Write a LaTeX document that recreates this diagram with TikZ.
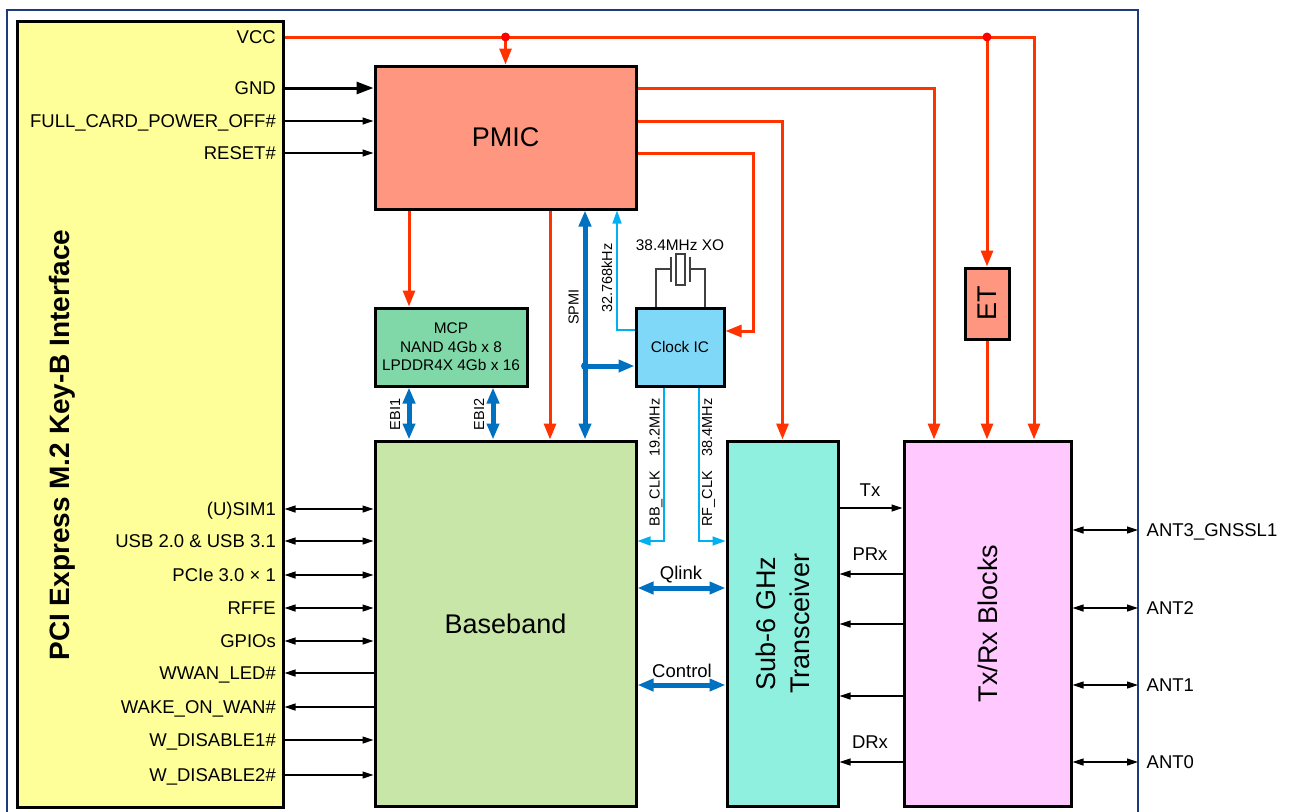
\documentclass[tikz,border=0pt]{standalone}
\usepackage{fontspec}
\setmainfont{Liberation Sans}
\usepackage{tikz}
\usetikzlibrary{arrows.meta,positioning}
\definecolor{framenavy}{HTML}{1F3A7A}
\definecolor{pciyellow}{HTML}{FFFF99}
\definecolor{pmicsalmon}{HTML}{FF9680}
\definecolor{mcpgreen}{HTML}{80D8A8}
\definecolor{clockblue}{HTML}{80D8F8}
\definecolor{bbgreen}{HTML}{C8E6A8}
\definecolor{trxaqua}{HTML}{90F0E0}
\definecolor{txrxpink}{HTML}{FFC8FF}
\definecolor{powerred}{HTML}{FF3300}
\definecolor{busblue}{HTML}{0070C0}
\definecolor{clkblue}{HTML}{00B0F0}
\definecolor{xtalgray}{HTML}{404040}
\newcommand{\fsBlock}{\fontsize{27}{34}\selectfont}
\newcommand{\fsTitle}{\fontsize{28}{34}\selectfont}
\newcommand{\fsPin}{\fontsize{18.5}{22}\selectfont}
\newcommand{\fsBox}{\fontsize{15.4}{18.5}\selectfont}
\newcommand{\fsSig}{\fontsize{14.5}{17}\selectfont}
\tikzset{
  block/.style={draw=black,line width=3pt,align=center,inner sep=0pt,font=\fsBlock},
  blocktext/.style={rotate=90,align=center,inner sep=0pt,font=\fsBlock},
  pinlbl/.style={anchor=east,inner sep=2pt,font=\fsPin,text height=13.2pt,text depth=0pt},
  antlbl/.style={anchor=west,inner xsep=8.5pt,inner ysep=0pt,font=\fsPin,text height=13.2pt,text depth=0pt},
  lbl/.style={inner sep=0pt,font=\fsPin,text height=13.2pt,text depth=0pt},
  vlbl/.style={rotate=90,inner sep=0pt,font=\fsSig,text height=10.4pt,text depth=0pt},
  pwr/.style={draw=powerred,line width=3pt,-{Triangle[length=16pt,width=12pt]}},
  gndline/.style={draw=black,line width=3pt,-{Triangle[length=17pt,width=12pt]}},
  sig/.style={draw=black,line width=1.2pt,-{Triangle[length=11pt,width=7pt]}},
  bisig/.style={sig,{Triangle[length=11pt,width=7pt]}-{Triangle[length=11pt,width=7pt]}},
  bus/.style={draw=busblue,line width=5pt,{Triangle[length=16pt,width=12pt]}-{Triangle[length=16pt,width=12pt]}},
  busr/.style={draw=busblue,line width=5pt,-{Triangle[length=16pt,width=12pt]}},
  clkline/.style={draw=clkblue,line width=1.5pt,-{Triangle[length=13pt,width=9pt]}},
  xtal/.style={draw=xtalgray,line width=1.3pt}
}
\begin{document}
\begin{tikzpicture}[x=1pt,y=-1pt]
  \useasboundingbox (0,0) rectangle (1289,811);
  \draw[framenavy,line width=1.3pt] (7,820) -- (7,10) -- (1138,10) -- (1138,820);

  \node[block,fill=pciyellow,minimum width=266pt,minimum height=786pt] (pci) at (150,414) {};
  \node[font=\fsTitle\bfseries,rotate=90,inner sep=0pt] (pcititle) at (62,445) {PCI Express M.2 Key-B Interface};
  \node[block,fill=pmicsalmon,minimum width=261pt,minimum height=143pt] (pmic) at (505.5,137.5) {PMIC};
  \node[block,fill=mcpgreen,minimum width=152pt,minimum height=78pt,font=\fsBox] (mcp) at (451,347) {MCP\\NAND 4Gb x 8\\LPDDR4X 4Gb x 16};
  \node[block,fill=clockblue,minimum width=88pt,minimum height=78pt,font=\fsBox] (clk) at (680,347) {Clock IC};
  \node[block,fill=bbgreen,minimum width=261pt,minimum height=365pt] (bb) at (505.5,623.5) {Baseband};
  \node[block,fill=trxaqua,minimum width=111pt,minimum height=365pt] (trx) at (782.5,623.5) {};
  \node[blocktext] (trxtext) at (trx) {Sub-6 GHz\\Transceiver};
  \node[block,fill=txrxpink,minimum width=167pt,minimum height=365pt] (txrx) at (987.5,623.5) {};
  \node[blocktext] (txrxtext) at (txrx) {Tx/Rx Blocks};
  \node[block,fill=pmicsalmon,minimum width=44pt,minimum height=71pt] (et) at (987,303.5) {};
  \node[blocktext] (ettext) at (et) {ET};

  \node[pinlbl] (vcc) at (278,37) {VCC};
  \node[pinlbl] (gnd) at (278,88) {GND};
  \node[pinlbl] (full) at (278,121) {FULL\_CARD\_POWER\_OFF\#};
  \node[pinlbl] (reset) at (278,153) {RESET\#};
  \foreach \nm/\yy/\txt in {sim/509/{(U)SIM1},usb/541/{USB 2.0 \& USB 3.1},pcie/575/{PCIe 3.0 × 1},
      rffe/608/RFFE,gpio/641/GPIOs,wwan/673/{WWAN\_LED\#},wake/707/{WAKE\_ON\_WAN\#},
      wdisa/740/{W\_DISABLE1\#},wdisb/775/{W\_DISABLE2\#}}
    \node[pinlbl] (\nm) at (278,\yy) {\txt};

  \coordinate (vcccorner) at (1034,37);
  \coordinate (tapa) at (505.5,37);
  \coordinate (tapb) at (987,37);
  \draw[pwr] (pci.east |- vcc) -- (vcccorner) -- (txrx.north -| vcccorner);
  \draw[pwr] (tapa) -- (pmic.north);
  \draw[pwr] (tapb) -- (et.north);
  \draw[pwr] (et.south) -- (txrx.north -| et.south);
  \draw[gndline] (pci.east |- gnd) -- (pmic.west |- gnd);
  \draw[sig] (pci.east |- full) -- (pmic.west |- full);
  \draw[sig] (pci.east |- reset) -- (pmic.west |- reset);

  \coordinate (raila) at (934,0);
  \coordinate (railc) at (753,331);
  \draw[pwr] (pmic.east |- gnd) -| (txrx.north -| raila);
  \draw[pwr] (pmic.east |- full) -| (trx.north);
  \draw[pwr] (pmic.east |- reset) -| (railc) -- (clk.east |- railc);

  \coordinate (ebia) at (409,0);
  \coordinate (ebib) at (493,0);
  \coordinate (pwrbb) at (550,0);
  \coordinate (spmi) at (585,366);
  \coordinate (slow) at (617,330);
  \draw[pwr] (pmic.south -| ebia) -- (mcp.north -| ebia);
  \draw[pwr] (pmic.south -| pwrbb) -- (bb.north -| pwrbb);
  \draw[bus] (mcp.south -| ebia) -- (bb.north -| ebia);
  \draw[bus] (mcp.south -| ebib) -- (bb.north -| ebib);
  \draw[bus] (pmic.south -| spmi) -- (bb.north -| spmi);
  \draw[busr] (spmi) -- (clk.west |- spmi);
  \draw[clkline] (clk.west |- slow) -| (pmic.south -| slow);
  \fill[busblue] (spmi) circle (4pt);
  \fill[red] (tapa) circle (4.5pt) (tapb) circle (4.5pt);

  \coordinate (xa) at (656,269);
  \coordinate (xb) at (705,269);
  \draw[xtal] (clk.north -| xa) |- (671,269) (clk.north -| xb) |- (690,269);
  \draw[xtal,line width=1.7pt] (671,256.5) -- (671,281.5) (690,256.5) -- (690,281.5);
  \draw[xtal] (676,254) rectangle (685,285);
  \node[inner sep=0pt,font=\fsBox] (xolbl) at (680,245) {38.4MHz XO};

  \coordinate (bbclk) at (664,541);
  \coordinate (rfclk) at (699,541);
  \draw[clkline] (clk.south -| bbclk) |- (bb.east |- bbclk);
  \draw[clkline] (clk.south -| rfclk) |- (trx.west |- rfclk);

  \node[vlbl] (spmilbl) at (573.5,307) {SPMI};
  \node[vlbl] (slowlbl) at (607,278) {32.768kHz};
  \node[vlbl] (ebialbl) at (395,414.5) {EBI1};
  \node[vlbl] (ebiblbl) at (479,414.5) {EBI2};
  \node[vlbl] (bbclklbl) at (654.5,462.5) {BB\_CLK\quad 19.2MHz};
  \node[vlbl] (rfclklbl) at (707,462.5) {RF\_CLK\quad 38.4MHz};

  \coordinate (qlink) at (681,588);
  \coordinate (ctrl) at (681,685);
  \draw[bus] (bb.east |- qlink) -- (trx.west |- qlink);
  \draw[bus] (bb.east |- ctrl) -- (trx.west |- ctrl);
  \node[lbl] (qlinklbl) at (681,572.5) {Qlink};
  \node[lbl] (ctrllbl) at (682,670.5) {Control};

  \foreach \nm in {sim,usb,pcie,rffe,gpio} \draw[bisig] (pci.east |- \nm) -- (bb.west |- \nm);
  \foreach \nm in {wwan,wake} \draw[sig] (bb.west |- \nm) -- (pci.east |- \nm);
  \foreach \nm in {wdisa,wdisb} \draw[sig] (pci.east |- \nm) -- (bb.west |- \nm);

  \foreach \nm/\yy in {tx/508,prx/574,rxb/624,rxc/696,drx/762} \coordinate (\nm) at (871,\yy);
  \draw[sig] (trx.east |- tx) -- (txrx.west |- tx);
  \foreach \nm in {prx,rxb,rxc,drx} \draw[sig] (txrx.west |- \nm) -- (trx.east |- \nm);
  \node[lbl] (txlbl) at (870,489.5) {Tx};
  \node[lbl] (prxlbl) at (870,554) {PRx};
  \node[lbl] (drxlbl) at (870,742) {DRx};

  \foreach \nm/\yy/\txt in {anta/530/{ANT3\_GNSSL1},antb/608/ANT2,antc/685/ANT1,antd/762/ANT0} {
    \node[antlbl] (\nm) at (1138,\yy) {\txt};
    \draw[bisig] (txrx.east |- \nm) -- (\nm.west);
  }
\end{tikzpicture}
\end{document}
